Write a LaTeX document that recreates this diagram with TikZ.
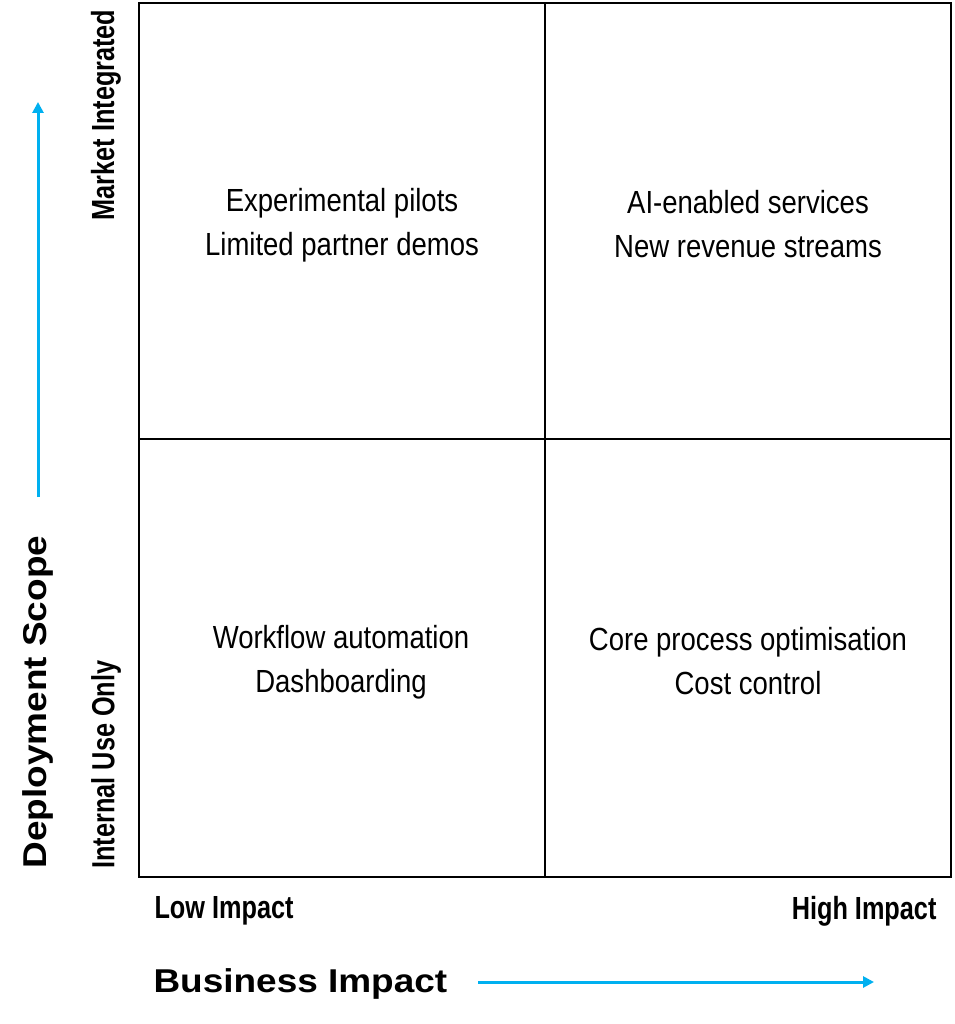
\documentclass[tikz,border=0pt]{standalone}
\usepackage{fontspec}
\setmainfont{Liberation Sans}
\newfontfamily\condfont[FakeStretch=0.86]{Liberation Sans}
\newfontfamily\condbfont[FakeStretch=0.79,UprightFont={* Bold}]{Liberation Sans}
\newfontfamily\widebfont[FakeStretch=1.12,UprightFont={* Bold}]{Liberation Sans}
\usetikzlibrary{arrows.meta}
\definecolor{axisblue}{RGB}{0,176,240}
\tikzset{
  cell/.style={draw=black, line width=1.6pt},
  quadtext/.style={font=\condfont\fontsize{32}{44}\selectfont, align=center},
  endlabel/.style={font=\condbfont\fontsize{32}{36}\selectfont},
  axislabel/.style={font=\widebfont\fontsize{33}{38}\selectfont},
  axisarrow/.style={draw=axisblue, line width=3pt, -{Triangle[length=11pt,width=11pt]}}
}
\begin{document}
\begin{tikzpicture}[x=1pt,y=-1pt]
\useasboundingbox (0,0) rectangle (954,1024);
% grid
\draw[cell] (139,3) rectangle (951,877);
\draw[cell] (545,3) -- (545,877);
\draw[cell] (139,439) -- (951,439);
% quadrant texts
\node[quadtext] (q1) at (342,225) {Experimental pilots\\Limited partner demos};
\node[quadtext] (q2) at (748,224) {AI-enabled services\\New revenue streams};
\node[quadtext] (q3) at (341,662) {Workflow automation\\Dashboarding};
\node[quadtext] (q4) at (748,661) {Core process optimisation\\Cost control};
% x end labels
\node[endlabel, anchor=west] (low) at (151,911) {Low Impact};
\node[endlabel, anchor=east] (high) at (940,911) {High Impact};
% y end labels
\node[endlabel, rotate=90, anchor=east] (mkt) at (106,6) {Market Integrated};
\node[endlabel, rotate=90, anchor=west] (int) at (106,872) {Internal Use Only};
% axis titles
\node[axislabel, anchor=west] (bi) at (150,984) {Business Impact};
\node[axislabel, rotate=90, anchor=west] (ds) at (38,872) {Deployment Scope};
% axis arrows
\coordinate (xs) at (478,982);
\coordinate (xe) at (874,982);
\coordinate (ys) at (38,497);
\coordinate (ye) at (38,102);
\draw[axisarrow] (xs) -- (xe);
\draw[axisarrow] (ys) -- (ye);
\end{tikzpicture}
\end{document}
